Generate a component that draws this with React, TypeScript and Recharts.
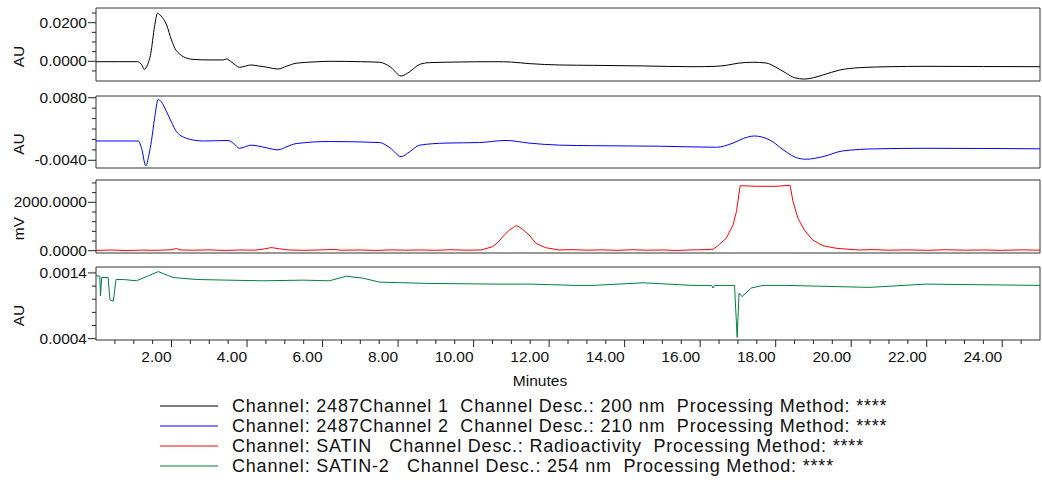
import React from 'react';
import { LineChart, Line, XAxis, YAxis, ReferenceArea } from 'recharts';

// retention time axis (minutes)
const minuteTicks = [
    0.5, 1, 1.5, 2, 2.5, 3, 3.5, 4, 4.5, 5, 5.5, 6, 6.5, 7, 7.5, 8, 8.5, 9, 9.5, 10, 10.5, 11, 11.5, 12,
    12.5, 13, 13.5, 14, 14.5, 15, 15.5, 16, 16.5, 17, 17.5, 18, 18.5, 19, 19.5, 20, 20.5, 21, 21.5, 22,
    22.5, 23, 23.5, 24, 24.5,
];
const minuteLabels = [2, 4, 6, 8, 10, 12, 14, 16, 18, 20, 22, 24];

// 2487 Channel 1, 200 nm
const ch1Time = [
    0, 0.6, 1.1, 1.2, 1.28, 1.36, 1.45, 1.55, 1.63, 1.72, 1.87, 2.0, 2.09, 2.2, 2.31, 2.57, 3.0, 3.37, 3.45,
    3.6, 3.8, 4.11, 4.3, 4.51, 4.82, 5.05, 5.3, 5.8, 6.18, 7.0, 7.51, 7.8, 8.08, 8.3, 8.57, 8.83, 9.5, 10.59,
    11.0, 11.47, 12.28, 13.17, 14.5, 15.81, 16.4, 16.69, 17.0, 17.4, 17.75, 18.0, 18.28, 18.5, 18.76, 19.0,
    19.25, 19.7, 20.22, 21.0, 21.98, 23.5, 25.0,
];
const ch1Au = [
    -0.0002, -0.0002, -0.0002, -0.0015, -0.0041, -0.002, 0.004, 0.018, 0.0249, 0.0235, 0.0188, 0.011, 0.0067,
    0.004, 0.0024, 0.001, 0.0007, 0.0007, 0.0012, -0.0005, -0.0031, -0.0019, -0.0024, -0.003, -0.004, -0.0025,
    -0.001, -0.0003, 0, -0.0002, -0.0005, -0.003, -0.0076, -0.0055, -0.0016, -0.0007, -0.0004, -0.0002,
    -0.0004, -0.0012, -0.0019, -0.0021, -0.0024, -0.0028, -0.0026, -0.0021, -0.001, -0.0005, -0.0009, -0.003,
    -0.0062, -0.0085, -0.0092, -0.0085, -0.0071, -0.0045, -0.0033, -0.0028, -0.0026, -0.0027, -0.0028,
];

// 2487 Channel 2, 210 nm
const ch2Time = [
    0, 1.12, 1.2, 1.32, 1.4, 1.47, 1.55, 1.65, 1.72, 1.87, 2.0, 2.13, 2.25, 2.4, 2.84, 3.5, 3.65, 3.8, 4.11,
    4.51, 4.82, 5.05, 5.3, 6.18, 7.51, 7.8, 8.08, 8.3, 8.57, 9.27, 10.15, 10.86, 11.47, 12.28, 13.17, 14.93,
    16.43, 16.87, 17.15, 17.44, 17.84, 18.28, 18.55, 18.81, 19.25, 19.78, 20.66, 21.98, 25.0,
];
const ch2Au = [
    -0.0003, -0.0003, -0.0015, -0.00504, -0.003, -0.0002, 0.004, 0.0077, 0.0073, 0.0053, 0.0033, 0.0015,
    0.0007, 0.0002, -0.0003, -0.0002, -0.0008, -0.0017, -0.0011, -0.0016, -0.002, -0.0014, -0.0008, -0.0004,
    -0.0006, -0.0017, -0.0033, -0.0024, -0.0011, -0.0007, -0.0006, -0.0002, -0.0007, -0.0011, -0.0012,
    -0.0013, -0.0015, -0.0007, 0.0002, 0.00066, -0.0001, -0.0024, -0.0035, -0.0038, -0.0033, -0.0022,
    -0.0018, -0.0017, -0.0018,
];

// SATIN, radioactivity
const satinTime = [
    0, 0.4, 0.8, 1.2, 1.6, 2.0, 2.13, 2.25, 2.6, 3.0, 3.4, 3.8, 4.2, 4.45, 4.64, 4.85, 5.1, 5.5, 6.0, 6.3,
    6.5, 7.0, 7.4, 7.8, 8.2, 8.6, 9.0, 9.4, 9.8, 10.2, 10.5, 10.65, 10.77, 10.95, 11.05, 11.12, 11.2, 11.3,
    11.47, 11.65, 11.91, 12.26, 12.6, 13.0, 13.4, 13.8, 14.2, 14.6, 15.0, 15.4, 15.8, 16.1, 16.34, 16.45,
    16.51, 16.69, 16.87, 16.96, 17.06, 17.5, 18.0, 18.38, 18.46, 18.59, 18.76, 18.98, 19.25, 19.6, 20.2,
    20.6, 21.0, 21.5, 22.0, 22.5, 23.0, 23.5, 24.0, 24.5, 25.0,
];
const satinMv = [
    10, 30, 5, 25, 15, 40, 90, 30, 20, 35, 10, 30, 20, 70, 130, 80, 30, 15, 35, 50, 20, 30, 10, 35, 20, 30,
    15, 40, 20, 30, 165, 350, 580, 855, 950, 1035, 990, 880, 650, 305, 124, 30, 45, 20, 35, 15, 40, 20, 30,
    10, 35, 40, 60, 180, 264, 512, 1062, 1612, 2686, 2660, 2660, 2700, 2025, 1339, 855, 442, 207, 100, 30,
    45, 20, 35, 15, 40, 20, 30, 15, 35, 20,
];

// SATIN-2, 254 nm
const satin2Time = [
    0, 0.1, 0.12, 0.15, 0.32, 0.37, 0.46, 0.53, 0.73, 1.07, 1.4, 1.65, 2.04, 2.66, 3.5, 4.42, 5.5, 6.18,
    6.63, 7.07, 7.51, 8.83, 10.59, 11.5, 12.71, 13.17, 14.49, 15.81, 16.3, 16.34, 16.38, 16.91, 16.98, 17.03,
    17.11, 17.35, 17.66, 18.3, 20.48, 21.98, 25.0,
];
const satin2Au = [
    0.00136, 0.00135, 0.00105, 0.00133, 0.00133, 0.00099, 0.00097, 0.0013, 0.0013, 0.00128, 0.00136,
    0.00142, 0.00133, 0.0013, 0.00129, 0.00128, 0.00129, 0.00128, 0.00135, 0.00132, 0.00126, 0.00124,
    0.00123, 0.00123, 0.00121, 0.00121, 0.00125, 0.00121, 0.00121, 0.00117, 0.00121, 0.00121, 0.00042,
    0.00109, 0.00104, 0.00117, 0.00121, 0.00121, 0.00118, 0.00123, 0.00121,
];

const legendRows = [
    { color: '#000000', text: 'Channel: 2487Channel 1  Channel Desc.: 200 nm  Processing Method: ****' },
    { color: '#0000ff', text: 'Channel: 2487Channel 2  Channel Desc.: 210 nm  Processing Method: ****' },
    { color: '#ff0000', text: 'Channel: SATIN   Channel Desc.: Radioactivity  Processing Method: ****' },
    { color: '#008040', text: 'Channel: SATIN-2   Channel Desc.: 254 nm  Processing Method: ****' },
];

const toRows = (time: number[], vals: number[]) => time.map((t, i) => ({ t, v: vals[i] }));

const FONT = '"Liberation Sans", Arial, sans-serif';
const PAD = 12; // room above/below each plot so edge tick labels are not clipped

const YTick = (props: any) => {
    const { x, y, payload, major, digits } = props;
    const isMajor = major.includes(payload.value);
    return (
        <g>
            <line x1={x - (isMajor ? 8 : 4)} x2={x} y1={y} y2={y} stroke='#222' />
            {isMajor && (
                <text x={x - 9} y={y} dy={5} textAnchor='end' fontSize={15.5} fontFamily={FONT} fill='#111'>
                    {payload.value.toFixed(digits)}
                </text>
            )}
        </g>
    );
};

const XTick = (props: any) => {
    const { x, y, payload } = props;
    const isMajor = minuteLabels.includes(payload.value);
    return (
        <g>
            <line x1={x} x2={x} y1={y} y2={y + (isMajor ? 7 : 4)} stroke='#222' />
            {isMajor && (
                <text x={x} y={y + 22} textAnchor='end' fontSize={15.5} fontFamily={FONT} fill='#111'>
                    {payload.value.toFixed(2)}
                </text>
            )}
        </g>
    );
};

type PanelProps = {
    top: number;
    height: number;
    data: { t: number; v: number }[];
    color: string;
    domain: [number, number];
    ticks: number[];
    major: number[];
    unit: string;
    smooth?: boolean;
    bottomAxis?: boolean;
};

const Panel = ({ top, height, data, color, domain, ticks, major, unit, smooth, bottomAxis }: PanelProps) => {
    const axisH = bottomAxis ? 52 : 0;
    return (
        <div style={{ position: 'absolute', left: 0, top: top - PAD }}>
            <LineChart
                width={1042}
                height={height + axisH + PAD * 2}
                data={data}
                margin={{ top: PAD, right: 2, bottom: PAD, left: 0 }}
            >
                <XAxis
                    type='number'
                    dataKey='t'
                    domain={[0, 25]}
                    allowDataOverflow
                    hide={!bottomAxis}
                    height={axisH}
                    ticks={minuteTicks}
                    interval={0}
                    axisLine={false}
                    tickLine={false}
                    tickSize={0}
                    tickMargin={0}
                    tick={<XTick />}
                    label={{ value: 'Minutes', position: 'insideBottom', offset: 6, dx: -28, fontSize: 15.5, fontFamily: FONT, fill: '#111' }}
                />
                <YAxis
                    type='number'
                    domain={domain}
                    allowDataOverflow
                    width={96}
                    ticks={ticks}
                    interval={0}
                    axisLine={false}
                    tickLine={false}
                    tickSize={0}
                    tickMargin={0}
                    tick={<YTick major={major} digits={4} />}
                    label={{ value: unit, angle: -90, position: 'center', dx: -30, dy: 12, fontSize: 15.5, fontFamily: FONT, fill: '#111' }}
                />
                <ReferenceArea x1={0} x2={25} y1={domain[0]} y2={domain[1]} fill='none' stroke='#333' strokeWidth={1} ifOverflow='visible' />
                <Line
                    type={smooth ? 'monotone' : 'linear'}
                    dataKey='v'
                    stroke={color}
                    strokeWidth={1}
                    dot={false}
                    isAnimationActive={false}
                />
            </LineChart>
        </div>
    );
};

const App = () => {
    return (
        <div style={{ position: 'absolute', left: 0, top: 0, width: 1042, height: 484, background: '#fff', fontFamily: FONT }}>
            <Panel
                top={8}
                height={73}
                data={toRows(ch1Time, ch1Au)}
                color='#000000'
                domain={[-0.0102, 0.0276]}
                ticks={[-0.005, 0, 0.005, 0.01, 0.015, 0.02, 0.025]}
                major={[0, 0.02]}
                unit='AU'
                smooth
            />
            <Panel
                top={96}
                height={72}
                data={toRows(ch2Time, ch2Au)}
                color='#0000ff'
                domain={[-0.00548, 0.00833]}
                ticks={[-0.004, -0.002, 0, 0.002, 0.004, 0.006, 0.008]}
                major={[-0.004, 0.008]}
                unit='AU'
                smooth
            />
            <Panel
                top={180}
                height={73}
                data={toRows(satinTime, satinMv)}
                color='#ff0000'
                domain={[-95, 2921]}
                ticks={[0, 400, 800, 1200, 1600, 2000, 2400, 2800]}
                major={[0, 2000]}
                unit='mV'
            />
            <Panel
                top={267}
                height={73}
                data={toRows(satin2Time, satin2Au)}
                color='#008040'
                domain={[0.00038, 0.00149]}
                ticks={[0.0004, 0.0006, 0.0008, 0.001, 0.0012, 0.0014]}
                major={[0.0004, 0.0014]}
                unit='AU'
                bottomAxis
            />
            <svg width={1042} height={90} style={{ position: 'absolute', left: 0, top: 394 }}>
                {legendRows.map((row, i) => (
                    <g key={i}>
                        <line x1={160} x2={218} y1={12 + i * 20} y2={12 + i * 20} stroke={row.color} strokeWidth={1} />
                        <text
                            x={232}
                            y={18 + i * 20}
                            fontSize={18}
                            letterSpacing={0.8}
                            fontFamily={FONT}
                            fill='#111'
                            style={{ whiteSpace: 'pre' }}
                        >
                            {row.text}
                        </text>
                    </g>
                ))}
            </svg>
        </div>
    );
};

export default App;
